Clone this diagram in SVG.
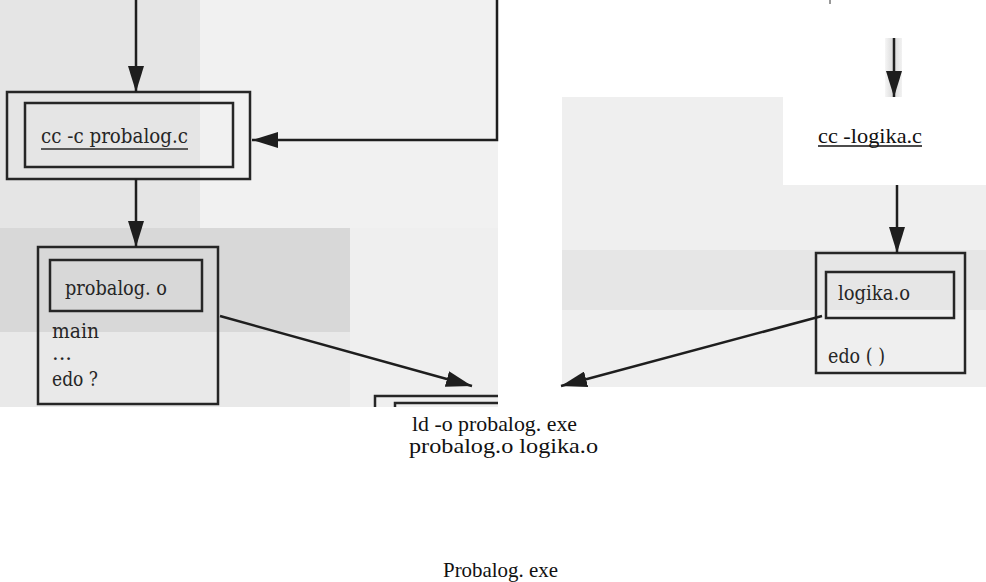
<svg xmlns="http://www.w3.org/2000/svg" width="986" height="582" viewBox="0 0 986 582">
<style>
.ln{fill:none;stroke:#1e1e1e;stroke-width:2.5}
.bx{fill:none;stroke:#262626;stroke-width:2.5}
.sc{font-family:"DejaVu Serif","Liberation Serif",serif;font-size:21px;fill:#262626}
.tm{font-family:"Liberation Serif","Times New Roman",serif;font-size:21px;fill:#111}
</style>
<defs>
<marker id="ah" markerUnits="userSpaceOnUse" markerWidth="26" markerHeight="16" refX="26" refY="8" orient="auto">
<path d="M0,0 L26,8 L0,16 Z" fill="#1e1e1e"/>
</marker>
<linearGradient id="sg" x1="0" y1="0" x2="1" y2="0">
<stop offset="0" stop-color="#f6f6f6"/><stop offset="0.5" stop-color="#d8d8d8"/><stop offset="1" stop-color="#f2f2f2"/>
</linearGradient>
</defs>
<rect width="986" height="582" fill="#ffffff"/>
<g id="scans">
<rect x="0" y="0" width="498" height="407" fill="#ededed"/>
<rect x="0" y="0" width="200" height="228" fill="#e5e5e5"/>
<rect x="200" y="0" width="298" height="228" fill="#f1f1f1"/>
<rect x="0" y="228" width="350" height="104" fill="#d8d8d8"/>
<rect x="350" y="228" width="148" height="179" fill="#efefef"/>
<rect x="0" y="332" width="350" height="75" fill="#e9e9e9"/>
<path d="M562,97 H783 V185 H986 V387 H562 Z" fill="#efefef"/>
<rect x="562" y="250" width="424" height="60" fill="#e6e6e6"/>
<rect x="885" y="38" width="17" height="59" fill="url(#sg)"/>
</g>
<g id="n-cc-probalog">
<rect class="bx" x="7" y="92" width="243" height="87"/>
<rect class="bx" x="25" y="103" width="208" height="64"/>
<text class="sc" x="41" y="143" textLength="147" lengthAdjust="spacingAndGlyphs">cc -c probalog.c</text>
<line x1="41" y1="149" x2="188" y2="149" stroke="#2a2a2a" stroke-width="1.5"/>
</g>
<g id="n-probalog-o">
<rect class="bx" x="38" y="247" width="180" height="157"/>
<rect class="bx" x="50" y="260" width="152" height="51"/>
<text class="sc" x="65" y="295" textLength="102" lengthAdjust="spacingAndGlyphs">probalog. o</text>
<text class="sc" x="52" y="338" font-size="20" textLength="47" lengthAdjust="spacingAndGlyphs">main</text>
<text class="sc" x="52" y="360" font-size="11">...</text>
<text class="sc" x="52" y="386" font-size="20" textLength="46" lengthAdjust="spacingAndGlyphs">edo ?</text>
</g>
<g id="n-cc-logika">
<text class="tm" x="818" y="143" font-size="17" textLength="104" lengthAdjust="spacingAndGlyphs">cc -logika.c</text>
<line x1="818" y1="146" x2="922" y2="146" stroke="#111" stroke-width="1.3"/>
</g>
<g id="n-logika-o">
<rect class="bx" x="816" y="253" width="149" height="120"/>
<rect class="bx" x="826" y="272" width="128" height="46"/>
<text class="sc" x="838" y="300" textLength="72" lengthAdjust="spacingAndGlyphs">logika.o</text>
<text class="sc" x="828" y="363" textLength="57" lengthAdjust="spacingAndGlyphs">edo ( )</text>
</g>
<g id="n-ld">
<path class="bx" d="M375,407 V396 H498"/>
<path class="bx" d="M395,407 V403 H498"/>
<text class="tm" x="412" y="431" font-size="17" textLength="165" lengthAdjust="spacingAndGlyphs">ld -o probalog. exe</text>
<text class="tm" x="409" y="453" font-size="17" textLength="189" lengthAdjust="spacingAndGlyphs">probalog.o logika.o</text>
</g>
<g id="n-exe">
<text class="tm" x="443" y="577" textLength="115" lengthAdjust="spacingAndGlyphs">Probalog. exe</text>
</g>
<g id="connectors">
<line class="ln" x1="136" y1="0" x2="136" y2="92" marker-end="url(#ah)"/>
<path class="ln" d="M497,0 V140 H252" marker-end="url(#ah)"/>
<line class="ln" x1="136" y1="179" x2="136" y2="247" marker-end="url(#ah)"/>
<line class="ln" x1="220" y1="316" x2="472" y2="386" marker-end="url(#ah)"/>
<line class="ln" x1="894" y1="38" x2="894" y2="97" stroke-width="2" marker-end="url(#ah)"/>
<line class="ln" x1="897" y1="185" x2="897" y2="253" marker-end="url(#ah)"/>
<line class="ln" x1="822" y1="316" x2="561" y2="386" marker-end="url(#ah)"/>
<line x1="830" y1="0" x2="830" y2="4" stroke="#333" stroke-width="1"/>
</g>
</svg>
